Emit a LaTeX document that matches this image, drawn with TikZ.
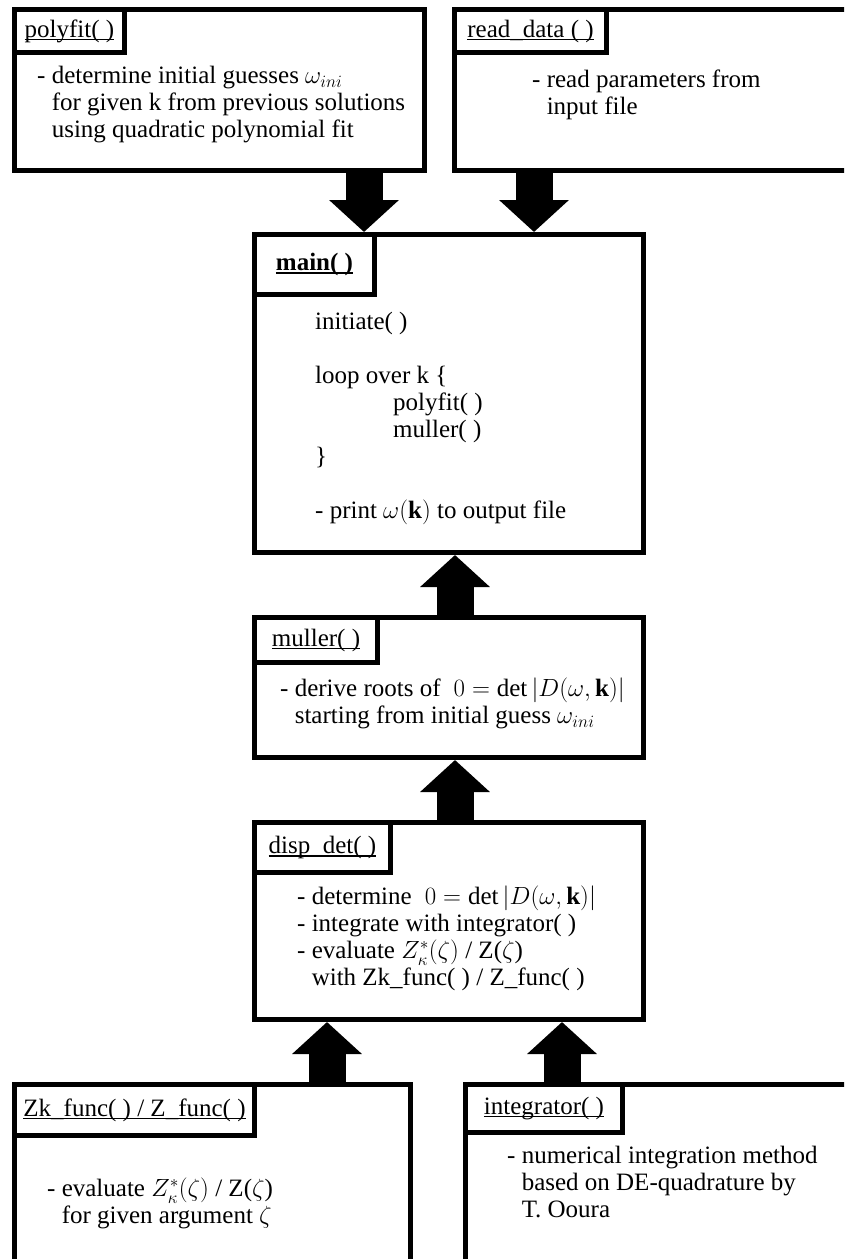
\documentclass[tikz,border=0pt]{standalone}
\usepackage{amsmath}
\usepackage{fontspec}
\setmainfont{Liberation Serif}
\usetikzlibrary{arrows.meta,positioning}
% Unterstrich dicht unter der Grundlinie
\newcommand{\titel}[1]{\setbox0\hbox{#1}\rlap{\rule[-3pt]{\wd0}{1.3pt}}\box0}

\begin{document}
\begin{tikzpicture}[x=1pt, y=-1pt,
			box/.style={draw, line width=5pt, anchor=north west, inner sep=0pt},
			tab/.style={draw, line width=5pt, anchor=north west, inner sep=0pt},
			body/.style={anchor=north west, align=left, inner sep=0pt},
			fatarrow/.style={line width=37pt, -{Triangle[width=68pt,length=32pt]}},
			font=\fontsize{25}{27}\selectfont]
			%Bildbereich
			\useasboundingbox (0,0) rectangle (844,1259);
			\clip (0,0) rectangle (844,1259);
			% Kaesten zeichnen
			\node[box, minimum width=410pt, minimum height=161pt] (polyfit) at (12,7) {};
			\node[box, minimum width=394pt, minimum height=161pt] (readdata) at (452,7) {};
			\node[box, minimum width=389pt, minimum height=318pt] (main) at (252,232) {};
			\node[box, minimum width=389pt, minimum height=140pt] (muller) at (252,615) {};
			\node[box, minimum width=389pt, minimum height=197pt] (dispdet) at (252,820) {};
			\node[box, minimum width=396pt, minimum height=190pt] (zkfunc) at (12,1082) {};
			\node[box, minimum width=383pt, minimum height=190pt] (integrator) at (463,1082) {};
			% Reiter mit Namen
			\node[tab, minimum width=110pt, minimum height=43pt] (polyfittab) at (polyfit.north west) {\titel{polyfit( )}};
			\node[tab, minimum width=152pt, minimum height=43pt] (readdatatab) at (readdata.north west) {\titel{read\_data ( )}};
			\node[tab, minimum width=120pt, minimum height=60pt] (maintab) at (main.north west) {\titel{\textbf{main( )}}};
			\node[tab, minimum width=123pt, minimum height=45pt] (mullertab) at (muller.north west) {\titel{muller( )}};
			\node[tab, minimum width=136pt, minimum height=50pt] (dispdettab) at (dispdet.north west) {\titel{disp\_det( )}};
			\node[tab, minimum width=240pt, minimum height=51pt] (zkfunctab) at (zkfunc.north west) {\titel{Zk\_func( ) / Z\_func( )}};
			\node[tab, minimum width=157pt, minimum height=48pt] (integratortab) at (integrator.north west) {\titel{integrator( )}};
			% Texte
			\node[body] (polyfittext) at ([shift={(25,59)}]polyfit.north west)
				{- determine initial guesses $\omega_{ini}$\\
				\phantom{- }for given k from previous solutions\\
				\phantom{- }using quadratic polynomial fit};
			\node[body] (readdatatext) at ([shift={(80,63)}]readdata.north west)
				{- read parameters from\\
				\phantom{- }input file};
			\node[body] (maintext) at ([shift={(63,80)}]main.north west)
				{initiate( )\\[27pt]
				loop over k \{\\
				\hspace*{78pt}polyfit( )\\
				\hspace*{78pt}muller( )\\
				\}\\[27pt]
				- print $\omega(\mathbf{k})$ to output file};
			\node[body] (mullertext) at ([shift={(28,63)}]muller.north west)
				{- derive roots of $\;0=\det|D(\omega,\mathbf{k})|$\\
				\phantom{- }starting from initial guess $\omega_{ini}$};
			\node[body] (dispdettext) at ([shift={(45,66)}]dispdet.north west)
				{- determine $\;0=\det|D(\omega,\mathbf{k})|$\\
				- integrate with integrator( )\\
				- evaluate $Z^*_\kappa(\zeta)$ / Z($\zeta$)\\
				\phantom{- }with Zk\_func( ) / Z\_func( )};
			\node[body] (zkfunctext) at ([shift={(35,96)}]zkfunc.north west)
				{- evaluate $Z^*_\kappa(\zeta)$ / Z($\zeta$)\\
				\phantom{- }for given argument $\zeta$};
			\node[body] (integratortext) at ([shift={(44,64)}]integrator.north west)
				{- numerical integration method\\
				\phantom{- }based on DE-quadrature by\\
				\phantom{- }T. Ooura};
			% Spalten der Pfeile
			\coordinate (polycol) at (364,0);
			\coordinate (readcol) at (534,0);
			\coordinate (mullercol) at (455,0);
			\coordinate (zkcol) at (327,0);
			\coordinate (intcol) at (562,0);
			% Pfeile zeichnen
			\draw[fatarrow] (polyfit.south -| polycol) -- (main.north -| polycol);
			\draw[fatarrow] (readdata.south -| readcol) -- (main.north -| readcol);
			\draw[fatarrow] (muller.north -| mullercol) -- (main.south -| mullercol);
			\draw[fatarrow] (dispdet.north -| mullercol) -- (muller.south -| mullercol);
			\draw[fatarrow] (zkfunc.north -| zkcol) -- (dispdet.south -| zkcol);
			\draw[fatarrow] (integrator.north -| intcol) -- (dispdet.south -| intcol);
		\end{tikzpicture}
\end{document}
